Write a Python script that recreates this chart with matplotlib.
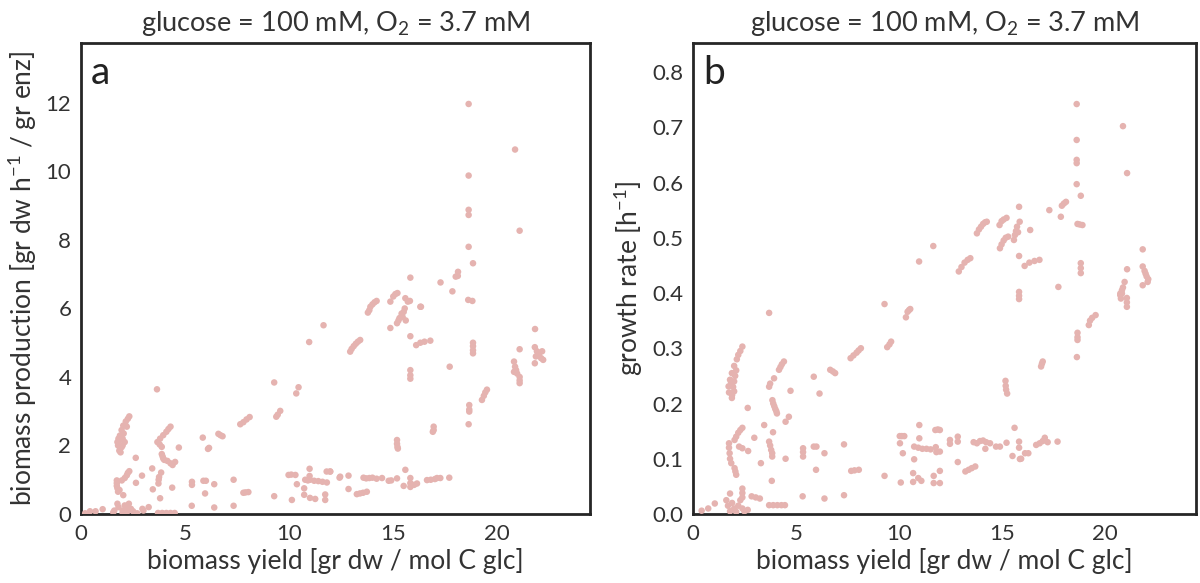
import matplotlib
matplotlib.use("Agg")
import matplotlib.pyplot as plt
from matplotlib.ticker import FormatStrFormatter

plt.rcParams['font.family'] = ['Lato', 'DejaVu Sans']
plt.rcParams['mathtext.default'] = 'regular'

TITLE = "glucose = 100 mM, O$_2$ = 3.7 mM"
XLABEL = "biomass yield [gr dw / mol C glc]"
YLABEL_A = "biomass production [gr dw h$^{-1}$ / gr enz]"
YLABEL_B = "growth rate [h$^{-1}$]"
XTICKS = [0, 5, 10, 15, 20]
YTICKS_A = [0, 2, 4, 6, 8, 10, 12]
YTICKS_B = [0.0, 0.1, 0.2, 0.3, 0.4, 0.5, 0.6, 0.7, 0.8]

# ---- panel a : (biomass yield, biomass production) ----
a_high = [(18.62, 11.97), (20.85, 10.64), (18.62, 9.88), (18.62, 8.88), (18.62, 8.73),
          (21.07, 8.27), (18.62, 7.80), (18.83, 7.32), (15.82, 6.90), (17.27, 6.76),
          (18.11, 7.07), (18.0, 6.93), (18.1, 6.95), (17.84, 6.50), (18.6, 6.25), (18.8, 6.22),
          (15.0, 6.35), (15.1, 6.42), (15.2, 6.45), (15.58, 6.3), (14.86, 6.2), (13.9, 6.05),
          (14.0, 6.12), (14.1, 6.18), (14.2, 6.22), (15.7, 6.2), (15.8, 6.22), (16.3, 6.05)]
a_mid = [(13.78, 5.88), (13.85, 5.95), (15.18, 5.57), (15.25, 5.65), (15.3, 5.72), (15.4, 5.85),
         (15.45, 5.75), (15.5, 5.9), (15.55, 6.0), (15.6, 5.65), (14.86, 5.43), (16.33, 6.05),
         (12.93, 4.74), (13.0, 4.82), (13.1, 4.9), (13.2, 4.97), (13.3, 5.03), (13.41, 5.08),
         (15.82, 5.19), (16.1, 4.93), (16.3, 5.0), (16.5, 5.03), (16.78, 5.06),
         (18.83, 5.0), (18.83, 4.9), (18.83, 4.78), (18.83, 4.69), (17.71, 4.3),
         (21.81, 5.4), (21.07, 4.81), (21.8, 4.87), (21.9, 4.75), (22.0, 4.65), (22.1, 4.55),
         (22.2, 4.5), (21.8, 4.4), (22.0, 4.7), (21.85, 4.6), (22.15, 4.75),
         (20.8, 4.45), (20.85, 4.3), (20.9, 4.2), (20.95, 4.1), (20.8, 4.15),
         (21.07, 4.0), (21.07, 3.9), (21.07, 3.82), (15.82, 4.2), (15.82, 4.05), (15.82, 3.95),
         (19.26, 3.33), (19.35, 3.45), (19.42, 3.55), (19.5, 3.63),
         (18.65, 3.18), (18.65, 3.05), (18.65, 2.99), (18.62, 2.62),
         (16.94, 2.55), (16.94, 2.45), (16.9, 2.4), (15.18, 2.16), (15.18, 2.05),
         (15.2, 1.96), (15.22, 1.91)]
a_band = [(11.97, 1.24), (12.45, 1.09), (12.85, 1.12), (13.57, 1.06), (13.7, 1.04), (13.85, 1.05),
          (14.0, 1.06), (14.2, 1.03), (14.46, 1.05), (14.78, 0.97), (14.9, 0.98), (15.18, 1.04),
          (15.58, 1.29), (15.82, 1.05), (15.82, 0.9), (15.82, 0.79), (15.5, 0.82), (16.14, 0.89),
          (16.0, 0.85), (16.62, 0.99), (16.8, 1.0), (17.0, 1.02), (17.1, 1.05), (17.26, 1.05),
          (17.69, 1.06), (12.85, 0.73), (13.25, 0.58), (13.4, 0.6), (13.55, 0.62), (13.73, 0.65)]
a_low = [(11.65, 5.51), (10.96, 5.02), (9.28, 3.84), (10.45, 3.70), (10.34, 3.52), (9.57, 3.01),
         (9.38, 2.84), (9.45, 2.9), (7.65, 2.62), (7.8, 2.68), (7.95, 2.76), (8.1, 2.83),
         (6.6, 2.34), (6.7, 2.3), (6.8, 2.27), (5.85, 2.23), (6.1, 1.9), (6.15, 1.93), (3.65, 3.64),
         (2.32, 2.85), (2.25, 2.78), (2.15, 2.7), (2.03, 2.58), (1.95, 2.45), (1.87, 2.29),
         (1.8, 2.2), (1.75, 2.1), (1.78, 2.0), (1.84, 1.85), (1.9, 1.8), (2.0, 2.2), (2.1, 2.1),
         (2.05, 2.35), (1.95, 1.95), (2.2, 2.55), (1.85, 2.15), (2.0, 2.0),
         (3.8, 2.2), (3.95, 2.3), (4.1, 2.4), (4.2, 2.48), (4.3, 2.55), (3.67, 2.1), (3.78, 2.03),
         (3.88, 1.96), (4.7, 1.94), (3.88, 1.75), (3.92, 1.68), (3.95, 1.62), (4.0, 1.58),
         (4.15, 1.55), (4.3, 1.48), (4.52, 1.52), (4.4, 1.43),
         (2.63, 1.64), (3.42, 1.33), (3.85, 1.21), (2.93, 1.12),
         (2.32, 1.25), (2.25, 1.2), (2.2, 1.13), (2.1, 1.05), (1.96, 0.98), (1.72, 0.98),
         (1.72, 0.9), (1.72, 0.82), (1.75, 0.75), (1.78, 0.65), (1.85, 0.7), (2.03, 0.55),
         (2.64, 0.91), (3.75, 1.08), (3.73, 1.0), (3.72, 0.89), (3.45, 0.72), (4.38, 0.77),
         (3.8, 0.46), (5.33, 0.94), (5.33, 0.85), (5.88, 0.97), (6.0, 0.97), (6.4, 0.87),
         (5.96, 0.6), (7.33, 1.0), (7.8, 0.62), (7.9, 0.63), (8.04, 0.64), (9.28, 0.52),
         (5.32, 0.24), (6.4, 0.19), (7.33, 0.24),
         (10.13, 0.41), (10.98, 1.32), (9.97, 1.14), (10.1, 1.15), (10.3, 1.14), (10.37, 0.87),
         (10.77, 1.0), (10.9, 0.98), (11.0, 1.0), (11.2, 0.97), (11.4, 0.96), (11.6, 0.94),
         (11.81, 0.92), (10.98, 1.11), (11.8, 1.24), (11.97, 1.24), (10.72, 0.75), (10.72, 0.56),
         (11.0, 0.47), (11.25, 0.44), (11.73, 0.57), (11.73, 0.41), (12.42, 1.06),
         (0.2, 0.02), (0.43, 0.08), (0.7, 0.08), (1.04, 0.14), (1.55, 0.05), (1.6, 0.1),
         (1.75, 0.3), (1.8, 0.2), (2.0, 0.1), (2.1, 0.25), (2.2, 0.05), (2.3, 0.3), (2.4, 0.15),
         (2.5, 0.08), (2.7, 0.02), (2.95, 0.15), (3.25, 0.2), (3.0, 0.1), (3.7, 0.03), (3.9, 0.03),
         (4.1, 0.03), (4.3, 0.03), (4.5, 0.03), (2.0, 0.03), (2.2, 0.15)]

# ---- panel b : (biomass yield, growth rate) ----
b_high = [(18.65, 0.742), (20.9, 0.702), (18.65, 0.677), (18.65, 0.641), (18.65, 0.635),
          (21.1, 0.617), (18.65, 0.597), (18.85, 0.576), (17.93, 0.558), (18.03, 0.562),
          (18.13, 0.565), (15.85, 0.556), (17.32, 0.550), (17.88, 0.538),
          (13.8, 0.508), (13.9, 0.515), (14.0, 0.52), (14.1, 0.525), (14.2, 0.528), (14.28, 0.529),
          (14.9, 0.523), (15.0, 0.53), (15.1, 0.533), (15.24, 0.536),
          (15.6, 0.496), (15.65, 0.505), (15.7, 0.512), (15.75, 0.52), (15.88, 0.529), (15.8, 0.51),
          (14.92, 0.481), (15.0, 0.488), (15.1, 0.495), (15.2, 0.50), (15.32, 0.502),
          (16.39, 0.514), (18.69, 0.525), (18.8, 0.524), (18.93, 0.523), (11.68, 0.485), (10.99, 0.457),
          (12.92, 0.439), (13.05, 0.447), (13.2, 0.455), (13.35, 0.46), (13.48, 0.463),
          (15.85, 0.467), (16.12, 0.449), (16.35, 0.455), (16.6, 0.458), (16.84, 0.46),
          (18.85, 0.454), (18.85, 0.445), (18.85, 0.436),
          (21.86, 0.479), (21.1, 0.443), (21.86, 0.448), (21.95, 0.44), (22.05, 0.43), (22.13, 0.425),
          (21.86, 0.414), (22.0, 0.435), (22.1, 0.42),
          (20.77, 0.396), (20.85, 0.405), (20.9, 0.41), (20.98, 0.42), (20.8, 0.39),
          (15.85, 0.402), (15.85, 0.395), (15.85, 0.389), (17.76, 0.411),
          (20.77, 0.399), (20.85, 0.399), (21.09, 0.391), (21.09, 0.383), (21.09, 0.375),
          (19.24, 0.342), (19.3, 0.35), (19.4, 0.355), (19.57, 0.36),
          (18.69, 0.328), (18.69, 0.32), (18.69, 0.315), (18.66, 0.284),
          (16.92, 0.267), (16.96, 0.272), (17.0, 0.276),
          (15.19, 0.241), (15.2, 0.232), (15.22, 0.225), (15.27, 0.218)]
b_band = [(15.63, 0.156), (12.0, 0.152), (12.0, 0.113), (12.0, 0.078), (12.0, 0.056),
          (12.49, 0.134), (12.49, 0.127), (12.87, 0.14), (12.87, 0.131),
          (13.64, 0.13), (13.8, 0.128), (13.95, 0.132), (14.1, 0.133), (14.25, 0.13), (14.44, 0.128),
          (14.21, 0.118), (14.73, 0.122), (14.92, 0.122), (15.24, 0.129), (15.85, 0.131),
          (15.85, 0.12), (15.53, 0.105), (15.89, 0.0995), (15.95, 0.1), (16.14, 0.11), (16.3, 0.11),
          (16.68, 0.125), (16.85, 0.128), (17.0, 0.132), (17.1, 0.138), (17.24, 0.13), (17.72, 0.131),
          (12.87, 0.094), (13.24, 0.077), (13.4, 0.08), (13.55, 0.083), (13.72, 0.086)]
b_low = [(3.7, 0.364), (9.31, 0.380), (10.43, 0.366), (10.5, 0.369), (10.56, 0.371), (10.35, 0.356),
         (9.44, 0.302), (9.55, 0.307), (9.63, 0.312),
         (7.66, 0.282), (7.8, 0.287), (7.95, 0.292), (8.05, 0.296), (8.16, 0.30),
         (5.87, 0.2485), (6.67, 0.261), (6.8, 0.258), (6.91, 0.255), (6.15, 0.218), (4.74, 0.223),
         (2.66, 0.192),
         (2.4, 0.303), (2.3, 0.295), (2.2, 0.288), (2.13, 0.280), (2.0, 0.268), (1.89, 0.255),
         (1.8, 0.243), (1.73, 0.231), (1.75, 0.22), (1.89, 0.21), (1.9, 0.215), (2.0, 0.24),
         (2.05, 0.25), (1.95, 0.23), (2.1, 0.26), (1.85, 0.238), (2.0, 0.222),
         (4.18, 0.261), (4.25, 0.266), (4.32, 0.271), (4.42, 0.276), (3.94, 0.2456), (3.70, 0.2304),
         (3.75, 0.236), (3.86, 0.206), (3.9, 0.2), (3.95, 0.195), (4.0, 0.19), (4.08, 0.182),
         (4.05, 0.186), (4.66, 0.176), (4.5, 0.167), (3.46, 0.161), (3.89, 0.148), (2.98, 0.138),
         (2.02, 0.134), (2.1, 0.14), (2.2, 0.147), (2.3, 0.152), (2.4, 0.156),
         (1.75, 0.128), (1.75, 0.12), (1.78, 0.11), (1.8, 0.1), (1.86, 0.092), (2.24, 0.122),
         (2.4, 0.119), (2.68, 0.114), (2.02, 0.083), (2.06, 0.077), (2.1, 0.071), (3.3, 0.092),
         (3.7, 0.131), (3.75, 0.124), (3.8, 0.116), (3.85, 0.11), (3.85, 0.104), (4.5, 0.1),
         (5.35, 0.119), (5.35, 0.112), (5.35, 0.104), (5.87, 0.122), (6.0, 0.122), (6.39, 0.110),
         (7.34, 0.126), (5.98, 0.080), (7.69, 0.078), (7.85, 0.079), (8.06, 0.080), (9.31, 0.069),
         (3.83, 0.060),
         (10.05, 0.141), (10.15, 0.141), (10.27, 0.141), (11.0, 0.161), (11.0, 0.137), (10.06, 0.128),
         (10.2, 0.11), (10.75, 0.122), (10.95, 0.12), (11.15, 0.118), (11.35, 0.118), (11.55, 0.117),
         (11.8, 0.121), (11.78, 0.152), (11.9, 0.153), (10.75, 0.099), (11.83, 0.112), (10.7, 0.074),
         (10.95, 0.065), (11.1, 0.06), (10.7, 0.058), (11.7, 0.069), (11.7, 0.056), (10.1, 0.057),
         (0.42, 0.006), (0.74, 0.010), (1.06, 0.019), (1.62, 0.025), (1.7, 0.015), (1.8, 0.005),
         (1.9, 0.02), (2.0, 0.01), (2.1, 0.004), (2.2, 0.015), (2.3, 0.025), (2.4, 0.01), (2.5, 0.005),
         (1.8, 0.037), (2.4, 0.046), (2.4, 0.038), (2.4, 0.030), (2.85, 0.032), (3.05, 0.03),
         (3.25, 0.028), (2.66, 0.0075), (3.7, 0.016), (3.9, 0.016), (4.1, 0.016), (4.3, 0.016),
         (4.47, 0.016), (5.33, 0.032), (6.39, 0.028), (7.34, 0.034)]

POINT_COLOR = "#e5b3b0"
TEXT_COLOR = "#333333"
SPINE_COLOR = "#262626"

W, H = 1200, 583
fig = plt.figure(figsize=(12, 5.83), dpi=100)
ax_a = fig.add_axes([81 / W, 1 - 514 / H, (590 - 81) / W, (514 - 43) / H])
ax_b = fig.add_axes([693 / W, 1 - 514 / H, (1196 - 693) / W, (514 - 43) / H])

panels = [
    (ax_a, a_high + a_mid + a_band + a_low, YLABEL_A, YTICKS_A, 13.75, "a", None),
    (ax_b, b_high + b_band + b_low, YLABEL_B, YTICKS_B, 0.8525, "b", "%.1f"),
]
for ax, pts, ylabel, yticks, ytop, letter, fmt in panels:
    xs = [p[0] for p in pts]
    ys = [p[1] for p in pts]
    ax.scatter(xs, ys, s=22, color=POINT_COLOR, edgecolors='none', zorder=3)
    ax.set_xlim(0, 24.45)
    ax.set_ylim(0, ytop)
    ax.set_xticks(XTICKS)
    ax.set_yticks(yticks)
    if fmt:
        ax.yaxis.set_major_formatter(FormatStrFormatter(fmt))
    ax.tick_params(length=0, labelsize=16, colors=TEXT_COLOR, pad=7)
    ax.set_xlabel(XLABEL, fontsize=19, color=TEXT_COLOR, labelpad=3)
    ax.set_ylabel(ylabel, fontsize=19, color=TEXT_COLOR, labelpad=5)
    ax.set_title(TITLE, fontsize=19.5, color=TEXT_COLOR, pad=9)
    for sp in ax.spines.values():
        sp.set_color(SPINE_COLOR)
        sp.set_linewidth(2)
    ax.text(0.02, 0.975, letter, transform=ax.transAxes, fontsize=28,
            color="#222222", va='top', ha='left')

fig.savefig("out.png", dpi=100)
